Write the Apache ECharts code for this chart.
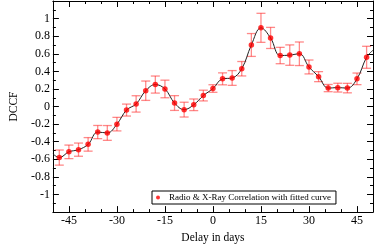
<!DOCTYPE html>
<html><head><meta charset="utf-8">
<script src="https://cdn.jsdelivr.net/npm/echarts@6/dist/echarts.min.js"></script>
<style>html,body{margin:0;padding:0;background:#fff}#c{width:374px;height:249px}</style>
</head><body><div id="c"></div>
<script>
var delays = [-48,-45,-42,-39,-36,-33,-30,-27,-24,-21,-18,-15,-12,-9,-6,-3,0,3,6,9,12,15,18,21,24,27,30,33,36,39,42,45,48];
var dccf = [-0.58,-0.515,-0.49,-0.43,-0.29,-0.30,-0.20,-0.04,0.03,0.18,0.25,0.20,0.04,-0.035,0.02,0.125,0.205,0.315,0.325,0.43,0.70,0.895,0.78,0.58,0.585,0.60,0.45,0.34,0.21,0.215,0.21,0.315,0.56];
var errors = [0.086,0.077,0.075,0.077,0.075,0.084,0.077,0.068,0.093,0.11,0.097,0.10,0.084,0.084,0.066,0.061,0.043,0.068,0.084,0.082,0.13,0.165,0.12,0.093,0.116,0.134,0.079,0.057,0.041,0.05,0.054,0.066,0.125];
var curveX = [-50].concat(delays, [50]);
var curveY = [-0.537].concat(dccf, [0.64]);
var xMajor = [-45,-30,-15,0,15,30,45];
var legendLabel = 'Radio & X-Ray Correlation with fitted curve';

var font = 'Liberation Serif';
var chart = echarts.init(document.getElementById('c'));
function xAx(pos, major, labels, line) {
  var a = {type:'value', position:pos, min:-50, max:50, interval:5,
    axisLine:{show:line, onZero:false, lineStyle:{color:'#000', width:1}},
    splitLine:{show:false},
    axisTick:{show:true, inside:true, length: major?6:3, lineStyle:{color:'#000'}},
    axisLabel:{show:labels, color:'#000', fontFamily:font, fontSize:12, margin:3}};
  if (major) { a.axisTick.customValues = xMajor; a.axisLabel.customValues = xMajor; }
  return a;
}
var xAxes = [xAx('bottom', true, true, true), xAx('bottom', false, false, false), xAx('top', true, false, true), xAx('top', false, false, false)];
xAxes[0].name = 'Delay in days';
xAxes[0].nameLocation = 'middle';
xAxes[0].nameGap = 13;
xAxes[0].nameTextStyle = {color:'#000', fontFamily:font, fontSize:11.5};
function yAx(pos, labels) {
  return {type:'value', position:pos, min:-1.2, max:1.2, interval:0.2,
    axisLine:{show:true, onZero:false, lineStyle:{color:'#000', width:1}},
    splitLine:{show:false},
    axisTick:{show:true, inside:true, length:6, lineStyle:{color:'#000'}},
    minorTick:{show:true, splitNumber:2, length:3, lineStyle:{color:'#000'}},
    axisLabel:{show:labels, color:'#000', fontFamily:font, fontSize:12, margin:3,
      formatter:function(v){ var r=Math.round(v*10)/10; if (Math.abs(r)>1.05) return ''; return String(r); }}};
}
var yAxes = [yAx('left', true), yAx('right', false)];
yAxes[0].name = 'DCCF';
yAxes[0].nameLocation = 'middle';
yAxes[0].nameGap = 22;
yAxes[0].nameTextStyle = {color:'#000', fontFamily:font, fontSize:11.5};

var pts = delays.map(function(d,i){return [d, dccf[i], errors[i]];});
chart.setOption({
  animation:false,
  grid:{left:34, right:1, top:1, bottom:25, containLabel:false},
  xAxis:xAxes, yAxis:yAxes,
  legend:{data:[legendLabel], left:152, top:191, orient:'horizontal',
    padding:[2,5,2,4], borderColor:'#000', borderWidth:1, backgroundColor:'#fff',
    itemWidth:12, itemHeight:4, itemGap:0,
    textStyle:{color:'#000', fontFamily:font, fontSize:9}},
  series:[
    {type:'custom', name:'err', xAxisIndex:0, yAxisIndex:0, data:pts, z:1,
      renderItem:function(params, api){
        var x=api.value(0), y=api.value(1), e=api.value(2);
        var lo=api.coord([x,y-e]), hi=api.coord([x,y+e]);
        var w=4.5, st={stroke:'rgba(255,40,40,0.55)', lineWidth:1.3};
        return {type:'group', children:[
          {type:'line', shape:{x1:lo[0],y1:lo[1],x2:hi[0],y2:hi[1]}, style:st},
          {type:'line', shape:{x1:lo[0]-w,y1:lo[1],x2:lo[0]+w,y2:lo[1]}, style:st},
          {type:'line', shape:{x1:hi[0]-w,y1:hi[1],x2:hi[0]+w,y2:hi[1]}, style:st}
        ]};
      }},
    {type:'line', name:'fit', data:curveX.map(function(d,i){return [d,curveY[i]];}),
      smooth:0.4, showSymbol:false, lineStyle:{color:'#222', width:1}, z:2},
    {type:'scatter', name:legendLabel, data:delays.map(function(d,i){return [d,dccf[i]];}),
      symbol:'circle', symbolSize:5.5, itemStyle:{color:'#ff0000'}, z:3}
  ]
});
</script></body></html>
